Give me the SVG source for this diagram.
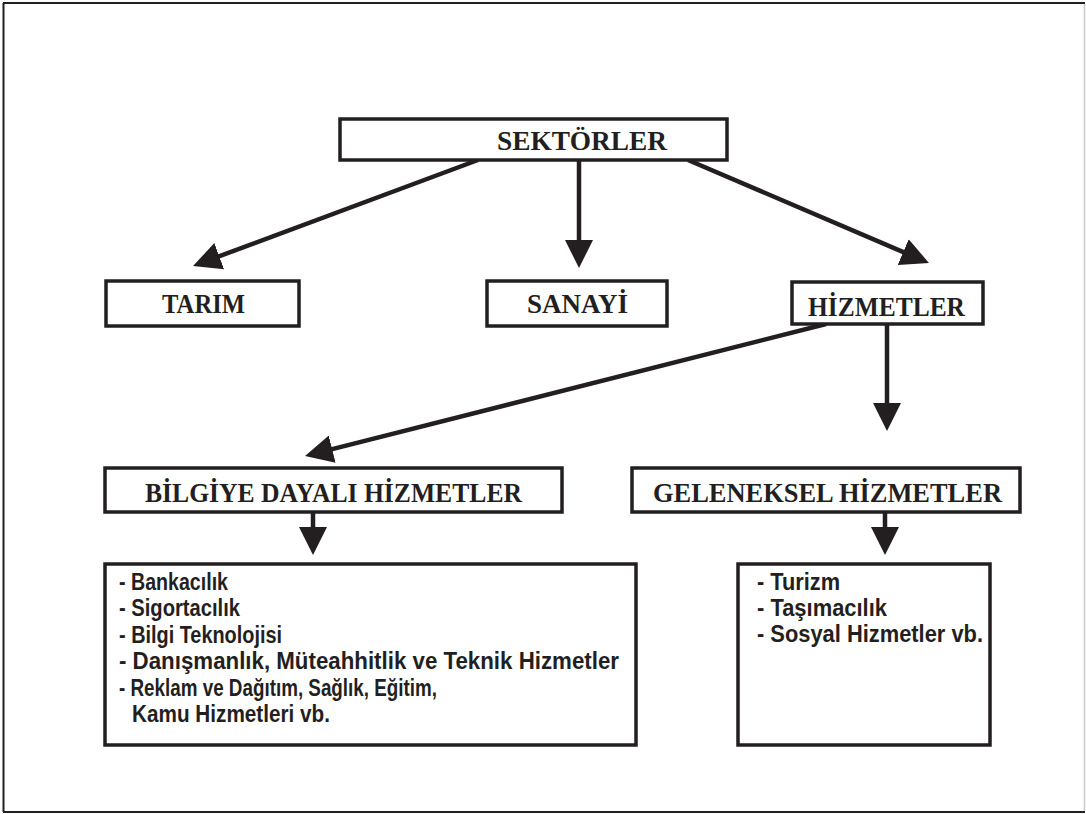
<svg xmlns="http://www.w3.org/2000/svg" width="1086" height="814" viewBox="0 0 1086 814">
<style>
.box{fill:#fff;stroke:#231f20;stroke-width:3.5}
.frame{stroke:#231f20;stroke-width:2;fill:none}
.h{font-family:"Liberation Serif","DejaVu Serif",serif;font-weight:bold;font-size:27px;fill:#231f20}
.l{font-family:"Liberation Sans","DejaVu Sans",sans-serif;font-weight:bold;font-size:23px;fill:#231f20}
.c line{stroke:#231f20;stroke-width:4.5}
</style>
<defs>
<marker id="ah" markerUnits="userSpaceOnUse" markerWidth="28" markerHeight="28" viewBox="0 0 28 28" refX="4" refY="14" orient="auto">
<path d="M0,0 L28,14 L0,28 z" fill="#231f20"/>
</marker>
</defs>
<rect width="1086" height="814" fill="#fff"/>
<g id="frame">
<line class="frame" x1="3" y1="3" x2="1085" y2="3"/>
<line class="frame" x1="3.5" y1="3" x2="3.5" y2="812"/>
<line class="frame" x1="3" y1="812" x2="1085" y2="812"/>
<line x1="1084.5" y1="4" x2="1084.5" y2="811" stroke="#c8c8c8" stroke-width="1.5"/>
</g>
<g class="c" id="connectors">
<line x1="478" y1="160" x2="215.5" y2="257.6" marker-end="url(#ah)"/>
<line x1="579" y1="160" x2="579" y2="244" marker-end="url(#ah)"/>
<line x1="688" y1="160" x2="906.9" y2="253.6" marker-end="url(#ah)"/>
<line x1="826" y1="324" x2="328.3" y2="450.1" marker-end="url(#ah)"/>
<line x1="887" y1="324" x2="887" y2="407" marker-end="url(#ah)"/>
<line x1="313" y1="512" x2="313" y2="531" marker-end="url(#ah)"/>
<line x1="885" y1="512" x2="885" y2="531" marker-end="url(#ah)"/>
</g>
<g id="sektorler">
<rect class="box" x="340" y="119" width="387" height="41"/>
<text class="h" x="497" y="150" textLength="170" lengthAdjust="spacingAndGlyphs">SEKTÖRLER</text>
</g>
<g id="tarim">
<rect class="box" x="106" y="281" width="193" height="45"/>
<text class="h" x="162" y="313" textLength="83" lengthAdjust="spacingAndGlyphs">TARIM</text>
</g>
<g id="sanayi">
<rect class="box" x="487" y="281" width="180" height="45"/>
<text class="h" x="527" y="313" textLength="101" lengthAdjust="spacingAndGlyphs">SANAYİ</text>
</g>
<g id="hizmetler">
<rect class="box" x="792" y="282" width="191" height="42"/>
<text class="h" x="808" y="316" textLength="157" lengthAdjust="spacingAndGlyphs">HİZMETLER</text>
</g>
<g id="bilgiye">
<rect class="box" x="105" y="468" width="457" height="44"/>
<text class="h" x="145" y="502" textLength="377" lengthAdjust="spacingAndGlyphs">BİLGİYE DAYALI HİZMETLER</text>
</g>
<g id="geleneksel">
<rect class="box" x="632" y="468" width="388" height="44"/>
<text class="h" x="653" y="502" textLength="349" lengthAdjust="spacingAndGlyphs">GELENEKSEL HİZMETLER</text>
</g>
<g id="bilgiye-list">
<rect class="box" x="105" y="564" width="531" height="181"/>
<text class="l" x="119" y="590" textLength="109" lengthAdjust="spacingAndGlyphs">- Bankacılık</text>
<text class="l" x="119" y="616" textLength="121" lengthAdjust="spacingAndGlyphs">- Sigortacılık</text>
<text class="l" x="119" y="643" textLength="163" lengthAdjust="spacingAndGlyphs">- Bilgi Teknolojisi</text>
<text class="l" x="119" y="669" textLength="500" lengthAdjust="spacingAndGlyphs">- Danışmanlık, Müteahhitlik ve Teknik Hizmetler</text>
<text class="l" x="119" y="696" textLength="318" lengthAdjust="spacingAndGlyphs">- Reklam ve Dağıtım, Sağlık, Eğitim,</text>
<text class="l" x="132" y="722" textLength="198" lengthAdjust="spacingAndGlyphs">Kamu Hizmetleri vb.</text>
</g>
<g id="geleneksel-list">
<rect class="box" x="738" y="564" width="252" height="181"/>
<text class="l" x="757" y="590" textLength="83" lengthAdjust="spacingAndGlyphs">- Turizm</text>
<text class="l" x="757" y="616" textLength="130" lengthAdjust="spacingAndGlyphs">- Taşımacılık</text>
<text class="l" x="757" y="642" textLength="226" lengthAdjust="spacingAndGlyphs">- Sosyal Hizmetler vb.</text>
</g>
</svg>
